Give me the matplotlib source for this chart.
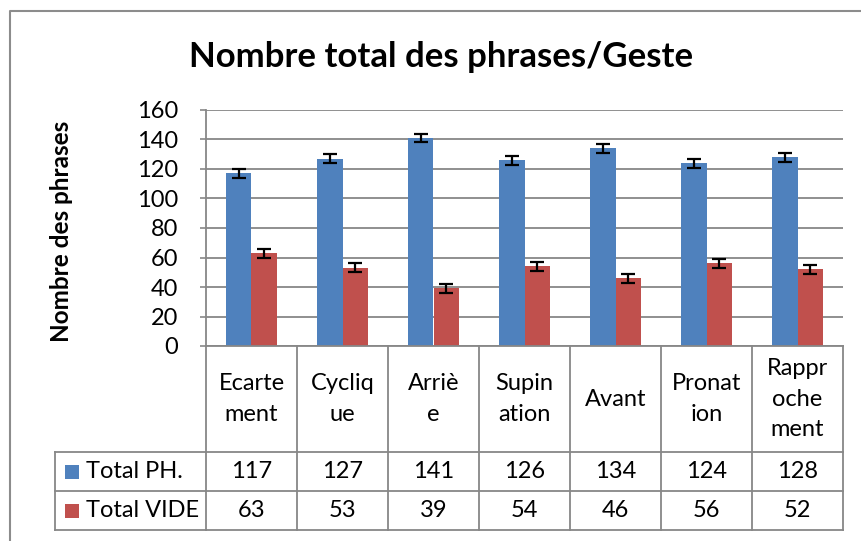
import matplotlib
matplotlib.use("Agg")
import matplotlib.pyplot as plt
from matplotlib.transforms import Affine2D, blended_transform_factory
from matplotlib.lines import Line2D
from matplotlib.patches import Rectangle
import numpy as np

plt.rcParams['font.family'] = ['Lato', 'DejaVu Sans']

# data
categories = ["Ecarte\nment", "Cycliq\nue", "Arriè\ne", "Supin\nation",
              "Avant", "Pronat\nion", "Rappr\noche\nment"]
series_names = ["Total PH.", "Total VIDE"]
total_ph = [117, 127, 141, 126, 134, 124, 128]
total_vide = [63, 53, 39, 54, 46, 56, 52]
err_ph = [3, 3, 3, 3, 3, 3, 3]
err_vide = [3, 3, 3, 3, 3, 3, 3]
colors = ["#4F81BD", "#C0504D"]
grid_col = "#878787"

W, H = 862, 541
fig = plt.figure(figsize=(W / 100, H / 100), dpi=100)
# pixel coords measured from top-left
pix = Affine2D().scale(1.0 / W, -1.0 / H).translate(0, 1) + fig.transFigure

ax = fig.add_axes([206 / W, 1 - 346 / H, 637 / W, 236 / H])
x = np.arange(len(categories))
bw = 0.285
ax.bar(x - bw / 2, total_ph, bw, color=colors[0], yerr=err_ph,
       error_kw=dict(ecolor="black", capsize=5, elinewidth=1.6, capthick=1.6))
ax.bar(x + bw / 2, total_vide, bw, color=colors[1], yerr=err_vide,
       error_kw=dict(ecolor="black", capsize=5, elinewidth=1.6, capthick=1.6))
ax.set_xlim(-0.5, len(categories) - 0.5)
ax.set_ylim(0, 160)
ax.set_yticks(np.arange(0, 161, 20))
ax.tick_params(axis="y", labelsize=17, length=4, color=grid_col, width=1.2, pad=16)
ax.set_xticks([])
ax.yaxis.grid(True, color=grid_col, linewidth=1.3)
ax.set_axisbelow(True)
for s in ["top", "right", "bottom"]:
    ax.spines[s].set_visible(False)
ax.spines["left"].set_color(grid_col)
ax.spines["left"].set_linewidth(1.3)

fig.text(62, 231, "Nombre des phrases", transform=pix, rotation=90,
         ha="center", va="center", fontsize=17.5, fontweight="bold")
fig.text(441, 57, "Nombre total des phrases/Geste", transform=pix,
         ha="center", va="center", fontsize=25, fontweight="bold")

# outer chart border
fig.add_artist(Line2D([10, 10, W], [H, 11, 11], transform=pix,
                      color="#8c8c8c", linewidth=1.5))

# data table
tb = blended_transform_factory(ax.transData, pix)
row_top, row1, row2, row_bot = 346, 452, 491, 530
xl, xr = -0.5, len(categories) - 0.5
fig.add_artist(Line2D([xl, xr], [row_top, row_top], transform=tb,
                      color=grid_col, linewidth=1.3))
for yy in [row1, row2, row_bot]:
    fig.add_artist(Line2D([55, 206], [yy, yy], transform=pix,
                          color=grid_col, linewidth=1.3))
    fig.add_artist(Line2D([xl, xr], [yy, yy], transform=tb,
                          color=grid_col, linewidth=1.3))
fig.add_artist(Line2D([55, 55], [row1, row_bot], transform=pix,
                      color=grid_col, linewidth=1.3))
for i in range(len(categories) + 1):
    fig.add_artist(Line2D([i - 0.5, i - 0.5], [row_top, row_bot], transform=tb,
                          color=grid_col, linewidth=1.3))

for i, cat in enumerate(categories):
    fig.text(i, (row_top + row1) / 2, cat, transform=tb, ha="center",
             va="center", fontsize=17, linespacing=1.55)
    fig.text(i, (row1 + row2) / 2, str(total_ph[i]), transform=tb,
             ha="center", va="center", fontsize=17)
    fig.text(i, (row2 + row_bot) / 2, str(total_vide[i]), transform=tb,
             ha="center", va="center", fontsize=17)

for k, (name, yy) in enumerate(zip(series_names, [(row1 + row2) / 2, (row2 + row_bot) / 2])):
    fig.add_artist(Rectangle((65, yy + 7), 14, -14, transform=pix,
                             facecolor=colors[k], edgecolor="none"))
    fig.text(86, yy, name, transform=pix, ha="left", va="center", fontsize=17)

fig.savefig("out.png", dpi=100)
